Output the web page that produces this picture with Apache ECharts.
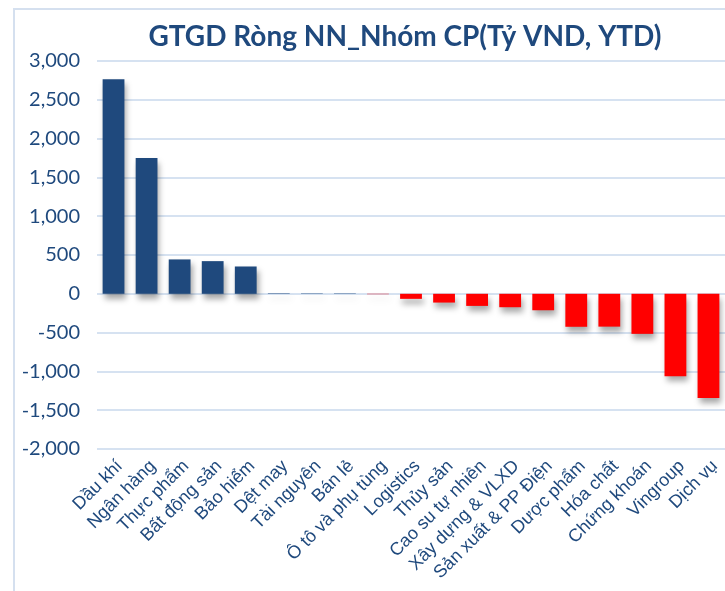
<!DOCTYPE html>
<html>
<head>
<meta charset="utf-8">
<script src="https://cdn.jsdelivr.net/npm/echarts@6/dist/echarts.min.js"></script>
<style>
  html, body { margin: 0; padding: 0; background: #fff; }
  #chart { width: 725px; height: 591px; }
</style>
</head>
<body>
<div id="chart"></div>
<script>
const categories = [
  'Dầu khí', 'Ngân hàng', 'Thực phẩm', 'Bất động sản', 'Bảo hiểm',
  'Dệt may', 'Tài nguyên', 'Bán lẻ', 'Ô tô và phụ tùng', 'Logistics',
  'Thủy sản', 'Cao su tự nhiên', 'Xây dựng & VLXD', 'Sản xuất & PP Điện', 'Dược phẩm',
  'Hóa chất', 'Chứng khoán', 'Vingroup', 'Dịch vụ'
]
const values = [
  2766, 1751, 443, 421, 352,
  6, 5, 5, -5, -65,
  -113, -156, -173, -212, -425,
  -423, -516, -1061, -1342
]
const yTicks = { min: -2000, max: 3000, interval: 500 }

const NAVY = '#1f497d'
const RED = '#ff0000'

const chart = echarts.init(document.getElementById('chart'))

chart.setOption({
  animation: false,
  graphic: [{
    type: 'rect',
    shape: { x: 14, y: 9, width: 760, height: 640 },
    style: { fill: 'none', stroke: '#d5e0ef', lineWidth: 2 },
    silent: true
  }, {
    // title, centred over the plot like in Excel
    type: 'text',
    x: 405,
    y: 37,
    style: {
      text: 'GTGD Ròng NN_Nhóm CP(Tỷ VND, YTD)',
      align: 'center',
      verticalAlign: 'middle',
      fontFamily: 'Lato',
      fontSize: 28,
      fontWeight: 'bold',
      fill: NAVY
    }
  }],
  grid: { left: 97, right: 0, top: 61, bottom: 142 },
  xAxis: {
    type: 'category',
    data: categories,
    position: 'bottom',
    axisLine: { show: false, onZero: false },
    axisTick: { show: false },
    axisLabel: {
      rotate: 45,
      interval: 0,
      margin: 8,
      verticalAlign: 'top',
      fontFamily: 'Liberation Sans',
      fontSize: 18,
      color: NAVY
    }
  },
  yAxis: {
    type: 'value',
    min: yTicks.min,
    max: yTicks.max,
    interval: yTicks.interval,
    axisLine: { show: false },
    axisTick: { show: false },
    axisLabel: {
      margin: 17,
      fontFamily: 'Lato',
      fontSize: 20,
      color: NAVY,
      formatter: v => v.toLocaleString('en-US')
    },
    splitLine: { lineStyle: { color: '#d6e2f1', width: 2 } }
  },
  series: [{
    type: 'bar',
    data: values,
    barCategoryGap: '34%',
    itemStyle: {
      color: p => (p.value >= 0 ? NAVY : RED),
      shadowColor: 'rgba(0,0,0,0.35)',
      shadowBlur: 6,
      shadowOffsetX: 2,
      shadowOffsetY: 5
    }
  }]
})
</script>
</body>
</html>
